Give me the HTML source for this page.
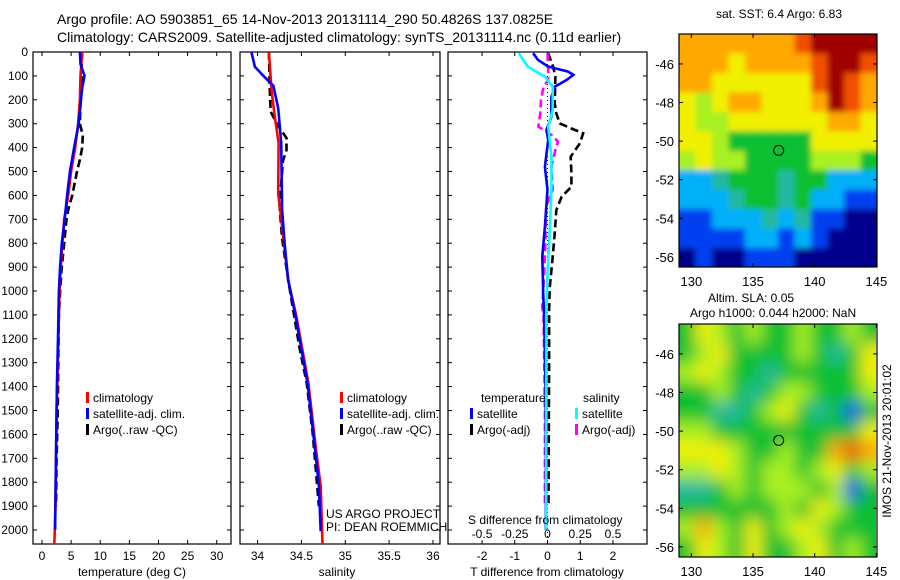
<!DOCTYPE html>
<html><head><meta charset="utf-8"><style>
body{margin:0;background:#fff}
svg{display:block;font-family:"Liberation Sans",sans-serif}
</style></head><body>
<svg id="fig" width="900" height="580" viewBox="0 0 900 580">
<defs>
<clipPath id="c1"><rect x="33" y="52" width="198" height="492"/></clipPath>
<clipPath id="c2"><rect x="240" y="52" width="200" height="492"/></clipPath>
<clipPath id="c3"><rect x="448" y="52" width="199" height="492"/></clipPath>
<clipPath id="cm1"><rect x="679" y="34" width="198" height="233"/></clipPath>
<clipPath id="cm2"><rect x="679" y="324" width="197" height="233"/></clipPath>
<filter id="bl" filterUnits="userSpaceOnUse" x="640" y="0" width="260" height="580"><feGaussianBlur stdDeviation="8"/></filter>
<filter id="bs" filterUnits="userSpaceOnUse" x="640" y="0" width="260" height="580"><feGaussianBlur stdDeviation="3"/></filter>
</defs>
<text x="57" y="24" font-size="14">Argo profile: AO 5903851_65 14-Nov-2013 20131114_290 50.4826S 137.0825E</text>
<text x="57" y="42" font-size="14">Climatology: CARS2009. Satellite-adjusted climatology: synTS_20131114.nc (0.11d earlier)</text>
<g id="g"></g>
</svg>
<script>
// ---------- profile data ----------
const tClimDepth=[0,100,200,300,400,500,600,700,800,900,1000,1100,1200,1300,1400,1500,1600,1700,1800,1900,2000,2060];
const tClim=[6.9,6.6,6.5,6.2,5.7,5.0,4.5,3.8,3.5,3.2,3.0,2.9,2.8,2.7,2.6,2.5,2.45,2.4,2.35,2.3,2.2,2.1];
const tSatDepth=[0,50,100,150,200,300,400,500,600,700,800,900,1000,1200,1400,1600,1800,2000];
const tSat=[6.5,6.6,7.3,6.9,6.7,6.3,5.5,4.8,4.3,3.9,3.4,3.1,2.9,2.75,2.55,2.45,2.35,2.25];
const tArgoDepth=[0,50,100,200,300,350,400,450,500,550,600,650,700,800,900,1000,1100,1300,1500,1700,1900];
const tArgo=[6.9,6.8,6.8,6.6,6.5,7.0,6.9,6.5,6.0,5.6,5.2,4.6,4.2,3.8,3.4,3.1,2.9,2.8,2.7,2.5,2.4];
const sClimDepth=[0,163,280,380,595,695,955,1100,1385,1675,1815,2060];
const sClim=[34.13,34.16,34.20,34.24,34.235,34.27,34.35,34.44,34.58,34.67,34.72,34.74];
const sSatDepth=[0,62,105,141,235,380,660,806,955,1100,1385,1675,1815,2005];
const sSat=[33.93,33.97,34.08,34.18,34.235,34.27,34.28,34.31,34.35,34.43,34.57,34.66,34.70,34.72];
const sArgoDepth=[0,163,250,310,360,410,455,640,780,955,1240,1385,1600,1900];
const sArgo=[34.13,34.14,34.15,34.235,34.33,34.33,34.29,34.25,34.28,34.35,34.48,34.56,34.63,34.70];
const dTArgoDepth=[5,61,104,215,257,299,320,340,382,438,508,564,606,662,760,871,983,1080,1300,1600,1900];
const dTArgo=[0.02,0.17,0.24,0.22,0.27,0.38,0.73,1.09,0.99,0.71,0.73,0.73,0.43,0.27,0.22,0.15,0.07,0.05,0.05,0.04,0.03];
const dTSatDepth=[5,33,61,82,96,117,145,187,271,326,368,480,577,731,856,1010,1108,1400,1700,2000];
const dTSat=[-0.44,-0.29,0.02,0.63,0.79,0.58,0.22,0.12,0.12,-0.03,0.02,-0.08,0.0,-0.08,-0.16,-0.13,-0.10,-0.06,-0.05,-0.05];
const dSSatDepth=[5,61,103,145,243,312,438,577,717,926,1108,1500,2000];
const dSSat=[-0.22,-0.15,-0.02,0.04,0.04,0.005,0.03,0.03,0.02,0.0,-0.01,-0.01,-0.01];
const dSArgoDepth=[5,61,117,145,201,257,312,347,375,410,480,577,647,787,926,1066,1108,1500,1900];
const dSArgo=[0,0.005,0.005,-0.03,-0.05,-0.055,-0.07,0.03,0.08,0.06,0.03,0.04,-0.01,-0.015,-0.025,-0.04,-0.03,-0.02,-0.02];
const depthTicks=[0,100,200,300,400,500,600,700,800,900,1000,1100,1200,1300,1400,1500,1600,1700,1800,1900,2000];
const tTicks=[0,5,10,15,20,25,30];
const sTicks=[34,34.5,35,35.5,36];
const sTickLabels=["34","34.5","35","35.5","36"];
const dTTicks=[-2,-1,0,1,2];
const dSTicks=[-0.5,-0.25,0,0.25,0.5];
const dSTickLabels=["-0.5","-0.25","0","0.25","0.5"];
// ---------- map data (colour class 0..9) ----------
const sstGrid=[
[7,7,7,7,7,7,7,8,9,9,9,9],
[7,7,7,6,7,7,7,7,8,9,9,8],
[7,7,6,6,6,6,6,6,8,9,8,7],
[6,5,6,7,7,6,6,6,7,9,8,7],
[6,5,5,6,6,6,6,6,6,7,7,6],
[6,6,5,4,4,4,4,4,6,6,6,6],
[5,6,5,5,4,4,4,4,5,5,5,4],
[2,2,3,4,4,4,3,4,4,2,2,2],
[2,2,2,3,4,4,3,4,2,2,1,1],
[1,1,2,2,2,3,2,3,1,1,0,0],
[1,1,1,1,2,2,1,2,1,0,0,0],
[0,1,0,0,1,1,1,0,0,0,0,0]];
const slaGrid=[
[4,6,5,4,5,4,4,5,4,4,5,4],
[4,5,6,4,4,4,4,5,4,3,4,6],
[5,6,5,4,4,3,4,4,4,4,4,6],
[4,4,5,4,3,4,5,5,4,4,4,5],
[4,4,3,3,4,5,6,4,3,4,1,4],
[5,5,4,4,4,4,4,4,4,4,4,6],
[6,6,6,5,4,4,5,4,4,7,8,7],
[5,5,6,5,4,5,5,4,5,6,4,5],
[3,3,4,5,4,5,5,5,4,5,1,4],
[4,4,4,4,4,4,5,4,6,5,4,4],
[5,7,5,4,6,4,5,6,5,4,4,4],
[4,6,5,4,6,4,4,5,6,4,5,4]];
const lonTicks=[130,135,140,145];
const latTicks=[-46,-48,-50,-52,-54,-56];
const floatLon=137.08, floatLat=-50.48;
const jet=['#00008c','#0040f0','#00b0f8','#20b8a0','#10c030','#a8f020','#f0f000','#ffa800','#f05000','#a00000'];

const NS='http://www.w3.org/2000/svg';
const G=document.getElementById('g');
function mk(tag,at,parent){const e=document.createElementNS(NS,tag);for(const k in at)e.setAttribute(k,at[k]);(parent||G).appendChild(e);return e;}
const yD=d=>52+d*0.239;
function panel(x0,x1,xmin,xmax,name,clip){
  const sx=v=>x0+(v-xmin)/(xmax-xmin)*(x1-x0);
  const g=mk('g',{});
  
  
  const box=mk('rect',{x:x0,y:52,width:x1-x0,height:492,fill:'none',stroke:'#000','stroke-width':1.2},g);
  
  
  depthTicks.forEach(d=>{mk('line',{x1:x0,x2:x0+4,y1:yD(d),y2:yD(d),stroke:'#000'},g);mk('line',{x1:x1,x2:x1-4,y1:yD(d),y2:yD(d),stroke:'#000'},g);});
  return {sx,g,clip};
}
function line(p,xs,ds,col,dash,name){
  const pts=xs.map((v,i)=>p.sx(v).toFixed(1)+','+yD(ds[i]).toFixed(1)).join(' ');
  const e=mk('polyline',{points:pts,fill:'none',stroke:col,'stroke-width':2.6,'stroke-dasharray':dash||'none','clip-path':'url(#'+p.clip+')'},p.g);
  
  
}
function txt(s,x,y,o,name){const e=mk('text',Object.assign({x:x,y:y,'font-size':12},o||{}));e.textContent=s;return e;}
function xticks(p,ticks,labels,name){ticks.forEach((t,i)=>{const x=p.sx(t);mk('line',{x1:x,x2:x,y1:544,y2:540,stroke:'#000'},p.g);mk('line',{x1:x,x2:x,y1:52,y2:56,stroke:'#000'},p.g);txt(labels[i],x,560,{'text-anchor':'middle'},name);});}
function legend(x,y,col,label,name){const r=mk('rect',{x:x,y:y-10,width:3,height:11,fill:col});txt(label,x+7,y,{},name);}

// Panel 1 temperature
const p1=panel(33,231,-1.55,32.45,'temperature-panel','c1');
depthTicks.forEach(d=>txt(String(d),28,yD(d)+4,{'text-anchor':'end'},'depth-tick-label'));
xticks(p1,tTicks,tTicks.map(String),'temperature-tick-label');
line(p1,tArgo,tArgoDepth,'#000','8,4','temp-argo-line');
line(p1,tClim,tClimDepth,'#f00',null,'temp-climatology-line');
line(p1,tSat,tSatDepth,'#0000ff',null,'temp-satellite-line');
txt('temperature (deg C)',132,576,{'text-anchor':'middle'},'temperature-axis-title');
legend(86,402,'#f00','climatology','legend-climatology');
legend(86,418,'#00f','satellite-adj. clim.','legend-satellite');
legend(86,434,'#000','Argo(..raw -QC)','legend-argo');

// Panel 2 salinity
const p2=panel(240,440,33.80,36.08,'salinity-panel','c2');
xticks(p2,sTicks,sTickLabels,'salinity-tick-label');
line(p2,sArgo,sArgoDepth,'#000','8,4','sal-argo-line');
line(p2,sClim,sClimDepth,'#f00',null,'sal-climatology-line');
line(p2,sSat,sSatDepth,'#0000ff',null,'sal-satellite-line');
txt('salinity',337,576,{'text-anchor':'middle'},'salinity-axis-title');
legend(340,402,'#f00','climatology','legend-climatology-2');
legend(340,418,'#00f','satellite-adj. clim.','legend-satellite-2');
legend(340,434,'#000','Argo(..raw -QC)','legend-argo-2');
txt('US ARGO PROJECT',326,518,{},'project-credit');
txt('PI: DEAN ROEMMICH',326,531,{},'pi-credit');

// Panel 3 differences
const p3=panel(448,647,-3.04,3.04,'difference-panel','c3');
xticks(p3,dTTicks,dTTicks.map(String),'t-diff-tick-label');
const p3s={sx:v=>p3.sx(v*4),g:p3.g,clip:'c3'};
dSTicks.forEach((t,i)=>txt(dSTickLabels[i],p3s.sx(t),538,{'text-anchor':'middle'},'s-diff-tick-label'));
mk('line',{x1:p3.sx(0),x2:p3.sx(0),y1:52,y2:544,stroke:'#000','stroke-dasharray':'1,3'},p3.g);
line(p3,dTArgo,dTArgoDepth,'#000','8,4','tdiff-argo-line');
line(p3s,dSArgo,dSArgoDepth,'#ff00ff','8,4','sdiff-argo-line');
line(p3,dTSat,dTSatDepth,'#0000ff',null,'tdiff-satellite-line');
line(p3s,dSSat,dSSatDepth,'#00ffff',null,'sdiff-satellite-line');
txt('S difference from climatology',468,524,{},'s-diff-title');
txt('T difference from climatology',547,576,{'text-anchor':'middle'},'t-diff-axis-title');
txt('temperature',481,402,{},'legend-temperature-header');
txt('salinity',583,402,{},'legend-salinity-header');
legend(470,418,'#00f','satellite','legend-t-satellite');
legend(470,434,'#000','Argo(-adj)','legend-t-argo');
legend(575,418,'#0ff','satellite','legend-s-satellite');
legend(575,434,'#f0f','Argo(-adj)','legend-s-argo');

// Maps
function map(grid,top,clip,name,filt){
  const L=129.0,R=145.05,lat0=-44.45,ppd=19.3;
  const sx=v=>679+(v-L)/(R-L)*198;
  const sy=v=>top+(lat0-v)*ppd;
  const g=mk('g',{'clip-path':'url(#'+clip+')'});
  
  
  const inner=mk('g',{filter:'url(#'+filt+')'},g);
  const rows=grid.length,cols=grid[0].length;
  const cw=(R-L)/cols,ch=12.1/rows;
  const pad=24;
  grid.forEach((row,r)=>row.forEach((v,c)=>{
    let x=sx(L+c*cw),y=sy(lat0-r*ch);
    let w=sx(L+(c+1)*cw)-x+0.5,h=ch*ppd+0.5;
    if(c===0){x-=pad;w+=pad;} if(c===cols-1){w+=pad;}
    if(r===0){y-=pad;h+=pad;} if(r===rows-1){h+=pad;}
    const e=mk('rect',{x:x,y:y,width:w,height:h,fill:jet[v]},inner);
    
    
  }));
  const fr=mk('rect',{x:679,y:top,width:198,height:233,fill:'none',stroke:'#000','stroke-width':1.2});
  
  
  lonTicks.forEach(t=>{const x=sx(t);mk('line',{x1:x,x2:x,y1:top,y2:top+4,stroke:'#000'});mk('line',{x1:x,x2:x,y1:top+233,y2:top+229,stroke:'#000'});txt(String(t),x,top+252,{'text-anchor':'middle','font-size':13},'lon-tick-label');});
  latTicks.forEach(t=>{const y=sy(t);mk('line',{x1:679,x2:683,y1:y,y2:y,stroke:'#000'});mk('line',{x1:877,x2:873,y1:y,y2:y,stroke:'#000'});txt(String(t),674,y+5,{'text-anchor':'end','font-size':13},'lat-tick-label');});
  const m=mk('circle',{cx:sx(floatLon),cy:sy(floatLat),r:5,fill:'none',stroke:'#000','stroke-width':1});
  
  
}
map(sstGrid,34,'cm1','sst-map','bs');
map(slaGrid,324,'cm2','sla-map','bl');
txt('sat. SST: 6.4  Argo: 6.83',779,18,{'text-anchor':'middle'},'sst-map-title');
txt('Altim. SLA: 0.05',708,302,{},'sla-map-title');
txt('Argo h1000: 0.044 h2000: NaN',690,317,{},'sla-map-subtitle');
txt('IMOS 21-Nov-2013 20:01:02',0,0,{transform:'translate(891,441) rotate(-90)','text-anchor':'middle'},'imos-timestamp');
</script>
</body></html>
